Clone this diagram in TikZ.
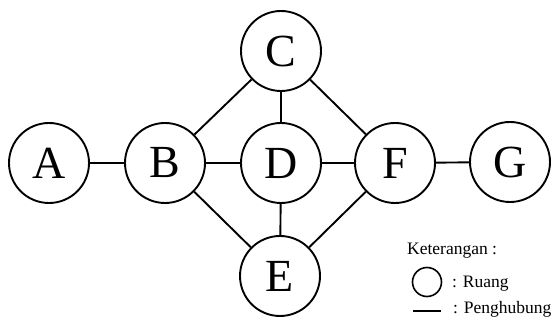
\documentclass[tikz,border=0pt]{standalone}
\usepackage{fontspec}
\setmainfont{Liberation Serif}
\begin{document}
\begin{tikzpicture}[x=1pt,y=-1pt,
  room/.style={circle,draw=black,line width=1.9pt,minimum size=80pt,inner sep=0pt,font=\fontsize{46}{46}\selectfont},
  link/.style={line width=1.9pt},
  legtext/.style={anchor=base west,inner sep=0pt,font=\fontsize{17.5}{18}\selectfont}]
\useasboundingbox (0,0) rectangle (555,320);
\node[room] (A) at (49,163) {A};
\node[room] (B) at (165,163) {B};
\node[room] (C) at (281,51) {C};
\node[room] (D) at (281,163) {D};
\node[room] (E) at (280,276) {E};
\node[room] (F) at (395,163) {F};
\node[room] (G) at (510,162) {G};
\draw[link] (A) -- (B);
\draw[link] (B) -- (D);
\draw[link] (D) -- (F);
\draw[link] (F) -- (G);
\draw[link] (B) -- (C);
\draw[link] (C) -- (F);
\draw[link] (B) -- (E);
\draw[link] (E) -- (F);
\draw[link] (C) -- (D);
\draw[link] (D) -- (E);
\node[legtext] (ket) at (407,255) {Keterangan :};
\node[circle,draw=black,line width=1.6pt,minimum size=29pt,inner sep=0pt] (lc) at (427,282) {};
\node[legtext] (ru) at (452,288) {: Ruang};
\coordinate (l1) at (413,311);
\coordinate (l2) at (441,311);
\draw[line width=2pt] (l1) -- (l2);
\node[legtext] (pg) at (453,314) {: Penghubung};
\end{tikzpicture}
\end{document}
